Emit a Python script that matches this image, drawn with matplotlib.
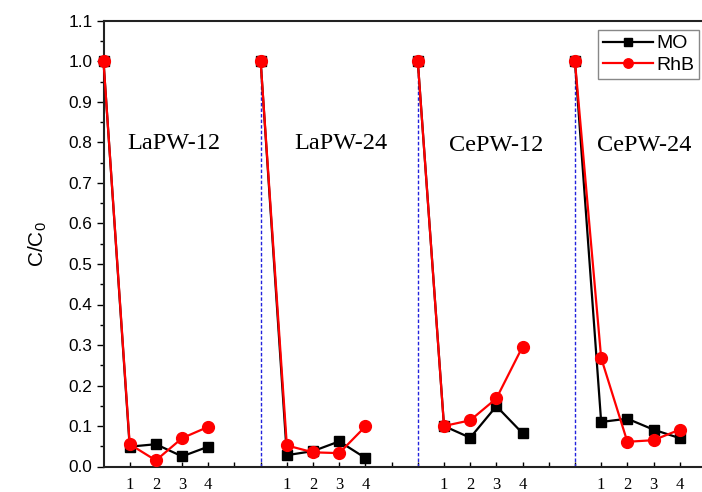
import matplotlib
matplotlib.use("Agg")
import matplotlib.pyplot as plt
import numpy as np

samples = ["LaPW-12", "LaPW-24", "CePW-12", "CePW-24"]
cycles = [0, 1, 2, 3, 4]
cycle_labels = ["1", "2", "3", "4"]
mo = [
    [1.0, 0.049, 0.055, 0.025, 0.049],
    [1.0, 0.028, 0.038, 0.062, 0.021],
    [1.0, 0.100, 0.071, 0.149, 0.082],
    [1.0, 0.110, 0.118, 0.091, 0.070],
]
rhb = [
    [1.0, 0.055, 0.015, 0.070, 0.098],
    [1.0, 0.052, 0.035, 0.033, 0.099],
    [1.0, 0.100, 0.114, 0.168, 0.296],
    [1.0, 0.268, 0.061, 0.065, 0.091],
]

seg_step = 6
label_pos = [(0.9, 0.783), (7.28, 0.783), (13.2, 0.778), (18.85, 0.778)]

W, H = 702, 492
ax_left, ax_bottom_px, ax_top_px = 103.5, 466.5, 21
fig = plt.figure(figsize=(W / 100, H / 100), dpi=100)
ax = fig.add_axes([ax_left / W, (H - ax_bottom_px) / H, 1 - ax_left / W,
                   (ax_bottom_px - ax_top_px) / H])

sans = "Liberation Sans"
serif = "Liberation Serif"

for i, name in enumerate(samples):
    start = i * seg_step
    xs = [start + c for c in cycles]
    ax.plot(xs, mo[i], color="black", lw=1.6, marker="s", ms=7.5, zorder=3,
            label="MO" if i == 0 else None, clip_on=False)
    ax.plot(xs, rhb[i], color="#ff0000", lw=1.6, marker="o", ms=8.5, zorder=4,
            label="RhB" if i == 0 else None, clip_on=False)
    if i > 0:
        ax.plot([start, start], [0, 1.0], color="#2222dd", lw=1.0,
                ls=(0, (2.5, 1.5)), zorder=2)
    ax.text(label_pos[i][0], label_pos[i][1], name, family=serif, fontsize=17.5,
            ha="left", va="baseline")

ax.set_xlim(0, 22.85)
ax.set_ylim(0, 1.1)

ticks = list(range(1, 23))
labels = []
for t in ticks:
    c = t % seg_step
    labels.append(cycle_labels[c - 1] if 1 <= c <= 4 else "")
ax.set_xticks(ticks)
ax.set_xticklabels(labels, family=serif, fontsize=12)
ax.set_yticks(np.arange(0, 1.11, 0.1))
ax.set_yticklabels([f"{v:.1f}" for v in np.arange(0, 1.11, 0.1)], family=sans, fontsize=12.4)
ax.set_yticks(np.arange(0.05, 1.1, 0.1), minor=True)

ax.tick_params(axis="x", direction="in", length=3.3, width=1.0, pad=7.3)
ax.tick_params(axis="y", which="major", direction="out", length=5, width=1.0, pad=3)
ax.tick_params(axis="y", which="minor", direction="out", length=3, width=1.0)

for s in ["left", "bottom", "top"]:
    ax.spines[s].set_linewidth(1.5)
    ax.spines[s].set_color("#222222")
ax.spines["right"].set_visible(False)

ax.set_ylabel(r"C/C$_\mathregular{0}$", family=sans, fontsize=15, labelpad=14)

leg = ax.legend(loc="upper right",
                prop={"family": sans, "size": 14}, fancybox=False, framealpha=1,
                edgecolor="#888888", handlelength=2.6, handletextpad=0.15,
                borderpad=0.25, labelspacing=0.2, borderaxespad=0, markerscale=0.8)
x1 = (699 - ax_left) / (W - ax_left)
y1 = (ax_bottom_px - 30) / (ax_bottom_px - ax_top_px)
leg.set_bbox_to_anchor((x1, y1), transform=ax.transAxes)
leg.get_frame().set_linewidth(1.0)

fig.savefig("out.png", dpi=100)
